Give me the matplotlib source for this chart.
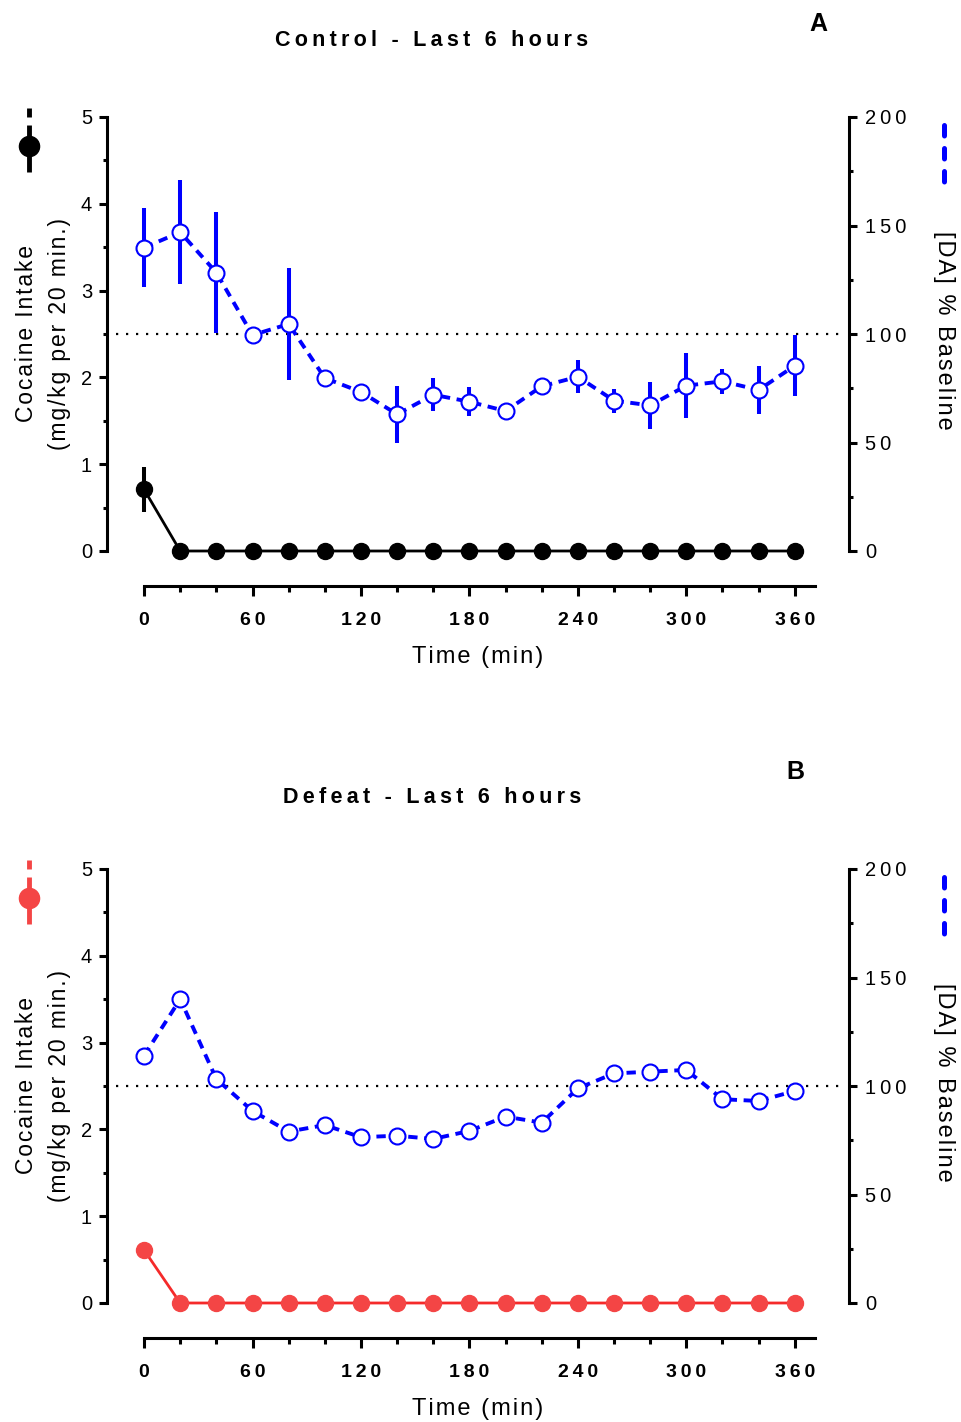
import matplotlib
matplotlib.use('Agg')
import matplotlib.pyplot as plt
from matplotlib.lines import Line2D

plt.rcParams['font.family'] = ['Liberation Sans', 'DejaVu Sans']

# data
time_min = [0, 20, 40, 60, 80, 100, 120, 140, 160, 180, 200, 220, 240, 260, 280, 300, 320, 340, 360]
x_ticks = [0, 60, 120, 180, 240, 300, 360]

control_dose = [0.71, 0, 0, 0, 0, 0, 0, 0, 0, 0, 0, 0, 0, 0, 0, 0, 0, 0, 0]
control_dose_err = [0.26, 0, 0, 0, 0, 0, 0, 0, 0, 0, 0, 0, 0, 0, 0, 0, 0, 0, 0]
control_da = [139.8, 146.9, 128.3, 99.5, 104.6, 79.7, 73.3, 63.0, 72.0, 68.8, 64.5, 75.9,
              80.3, 69.3, 67.1, 76.2, 78.2, 74.2, 85.4]
control_da_err = [18.3, 24, 27.8, 2, 26, 2, 3, 13, 7.5, 6.8, 2, 3,
                  7.5, 5.5, 10.7, 15, 5.8, 11, 14]

defeat_dose = [0.61, 0, 0, 0, 0, 0, 0, 0, 0, 0, 0, 0, 0, 0, 0, 0, 0, 0, 0]
defeat_da = [114.0, 140.0, 103.2, 88.5, 79.0, 82.0, 76.4, 77.1, 75.6, 79.3, 85.9, 83.1,
             98.9, 105.8, 106.6, 107.4, 93.9, 93.1, 97.7]

W, H = 961, 1422
HAIR = '\u200a'
THIN = '\u2009'


def spread(s, sp):
    return sp.join(s)


def fx(px):
    return px / W


def fy(py):
    return 1 - py / H


fig = plt.figure(figsize=(W / 100, H / 100), dpi=100)


def panel(top_px, dose, dose_err, da, da_err, dose_color, line_color, title, title_y, letter, letter_xy):
    ax = fig.add_axes([fx(107), fy(top_px + 434), 742 / W, 434 / H])
    ax2 = ax.twinx()

    ax.set_xlim(-20.5, 390)
    ax.set_ylim(0, 5)
    ax2.set_ylim(0, 200)

    # cocaine intake
    if dose_err is not None:
        ax.errorbar(time_min, dose, yerr=dose_err, fmt='none', ecolor=dose_color,
                    elinewidth=2.9, capsize=0, clip_on=False, zorder=3)
    ax.plot(time_min, dose, color=line_color, lw=2, marker='o', ms=11.5,
            mfc=dose_color, mec=dose_color, clip_on=False, zorder=4)

    # dopamine
    ax2.axhline(100, xmin=0.012, xmax=0.995, color='black', lw=1.6, ls=(0, (1, 3.5)), zorder=1)
    if da_err is not None:
        ax2.errorbar(time_min, da, yerr=da_err, fmt='none', ecolor='#0000FF',
                     elinewidth=2.9, capsize=0, clip_on=False, zorder=3)
    ax2.plot(time_min, da, color='#0000FF', lw=2.8, ls=(0, (2.4, 1.7)), marker='o', ms=11.5,
             mfc='white', mec='#0000FF', mew=1.5, clip_on=False, zorder=4)

    for a in (ax, ax2):
        for s in a.spines.values():
            s.set_linewidth(2.2)
        a.spines['top'].set_visible(False)
    ax.spines['right'].set_visible(False)
    ax2.spines['left'].set_visible(False)
    ax2.spines['bottom'].set_visible(False)
    ax.spines['left'].set_bounds(0, 5)
    ax2.spines['right'].set_bounds(0, 200)
    ax.spines['bottom'].set_position(('outward', 25.2))
    ax.spines['bottom'].set_bounds(0, 371)

    ax.set_xticks(x_ticks)
    ax.set_xticks(time_min, minor=True)
    ax.set_xticklabels([spread(str(t), THIN) for t in x_ticks], fontweight='bold', fontsize=14)
    ax.set_yticks([0, 1, 2, 3, 4, 5])
    ax.set_yticks([0.5, 1.5, 2.5, 3.5, 4.5], minor=True)
    ax.set_yticklabels(['0', '1', '2', '3', '4', '5'], fontsize=14.5)
    ax2.set_yticks([0, 50, 100, 150, 200])
    ax2.set_yticks([25, 75, 125, 175], minor=True)
    ax2.set_yticklabels([spread(str(t), THIN) for t in [0, 50, 100, 150, 200]], fontsize=14.5)

    ax.tick_params(axis='x', which='major', length=7, width=2.2, pad=12)
    ax.tick_params(axis='x', which='minor', length=4, width=2.2)
    ax.tick_params(axis='y', which='major', length=5.8, width=2.2, pad=5)
    ax.tick_params(axis='y', which='minor', length=3, width=2.2)
    ax2.tick_params(axis='y', which='major', length=5.8, width=2.2, pad=6)
    ax2.tick_params(axis='y', which='minor', length=3, width=2.2)

    ax.set_xlabel(spread('Time (min)', HAIR), fontsize=17, labelpad=12)
    ax.set_ylabel(spread('Cocaine Intake', HAIR) + '\n' + spread('(mg/kg per 20 min.)', HAIR),
                  fontsize=16.5, linespacing=1.55, ha='center', va='center')
    ax.yaxis.set_label_coords(-0.0863, 0.5)
    ax2.set_ylabel(spread('[DA] % Baseline', HAIR), fontsize=17, rotation=270,
                   ha='center', va='center')
    ax2.yaxis.set_label_coords(1.128, 0.509)

    fig.text(fx(432), fy(title_y), spread(title, THIN), fontsize=15.5, fontweight='bold',
             ha='center', va='baseline')
    fig.text(fx(letter_xy[0]), fy(letter_xy[1]), letter, fontsize=18, fontweight='bold',
             ha='center', va='baseline')

    # legend glyphs beside the axes
    gy = top_px - 9
    fig.add_artist(Line2D([fx(29), fx(29)], [fy(gy), fy(gy + 64)], transform=fig.transFigure,
                          color=dose_color, lw=3.5, ls=(0, (1.85, 1.65, 10, 2))))
    fig.add_artist(Line2D([fx(29)], [fy(gy + 38)], transform=fig.transFigure, marker='o',
                          ms=14.5, color=dose_color, ls='none'))
    fig.add_artist(Line2D([fx(944), fx(944)], [fy(top_px + 8), fy(top_px + 69)],
                          transform=fig.transFigure, color='#0000FF', lw=3.6,
                          ls=(0, (2.1, 2.5)), solid_capstyle='round', dash_capstyle='round'))
    return ax, ax2


panel(117, control_dose, control_dose_err, control_da, control_da_err,
      'black', 'black', 'Control - Last 6 hours', 46, 'A', (818, 31))
panel(869, defeat_dose, None, defeat_da, None,
      '#F44545', '#F52A2A', 'Defeat - Last 6 hours', 803, 'B', (795, 779))

fig.savefig('out.png', dpi=100)
